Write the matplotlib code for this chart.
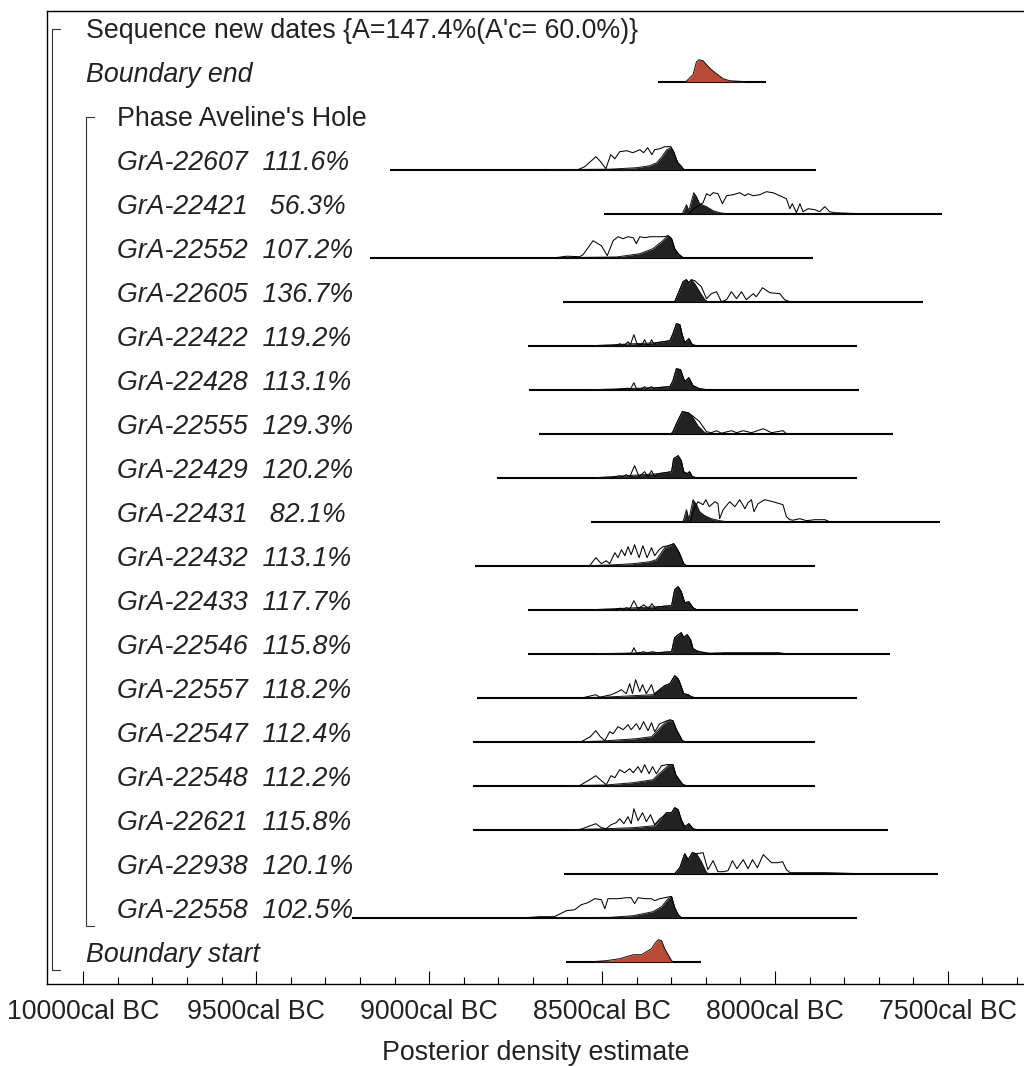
import matplotlib
matplotlib.use("Agg")
import matplotlib.pyplot as plt
from matplotlib.ticker import FixedLocator, FuncFormatter

plt.rcParams['font.family'] = ['Liberation Sans', 'DejaVu Sans']

# ---------------- data (years cal BC, relative probability in arbitrary units) -------------
SEQUENCE_LABEL = "Sequence new dates {A=147.4%(A'c= 60.0%)}"
PHASE_LABEL = "Phase Aveline's Hole"

sample_names = ["GrA-22607", "GrA-22421", "GrA-22552", "GrA-22605", "GrA-22422",
                "GrA-22428", "GrA-22555", "GrA-22429", "GrA-22431", "GrA-22432",
                "GrA-22433", "GrA-22546", "GrA-22557", "GrA-22547", "GrA-22548",
                "GrA-22621", "GrA-22938", "GrA-22558"]
agreements = [111.6, 56.3, 107.2, 136.7, 119.2, 113.1, 129.3, 120.2, 82.1, 113.1,
              117.7, 115.8, 118.2, 112.4, 112.2, 115.8, 120.1, 102.5]

# plotting ranges (start, end) of each row
end_range = (8338, 8025)
start_range = (8603, 8213)
sample_ranges = [(9114, 7882), (8495, 7517), (9172, 7890), (8613, 7572), (8714, 7762),
                 (8711, 7757), (8682, 7660), (8805, 7762), (8531, 7524), (8868, 7884),
                 (8714, 7760), (8714, 7668), (8863, 7763), (8873, 7885), (8873, 7884),
                 (8873, 7673), (8611, 7529), (9224, 7762)]

boundary_end_post = [(8258, 0), (8237, 7), (8227, 20), (8220, 22), (8208, 21), (8198, 17),
                     (8184, 12), (8169, 8), (8150, 3), (8131, 1), (8083, 0)]
boundary_start_post = [(8530, 0), (8488, 1), (8449, 3), (8410, 7), (8386, 7), (8372, 10),
                       (8357, 13), (8348, 18), (8338, 22), (8328, 21), (8319, 13), (8309, 7),
                       (8299, 1), (8295, 0)]

gra22607_prior = [(8570, 0), (8550, 3), (8518, 13), (8504, 8), (8489, 1), (8475, 15), (8463, 11),
                  (8449, 18), (8429, 19), (8411, 17), (8391, 20), (8380, 17), (8368, 22), (8356, 15),
                  (8348, 20), (8333, 21), (8319, 23), (8301, 23), (8293, 18), (8287, 12), (8281, 7),
                  (8270, 3), (8264, 0)]
gra22607_post = [(8651, 0), (8478, 0.5), (8400, 2), (8362, 4), (8342, 7), (8327, 13), (8313, 20),
                 (8301, 22), (8293, 18), (8287, 12), (8281, 7), (8270, 3), (8264, 0)]

gra22421_prior = [(8250, 0), (8235, 5), (8208, 11), (8198, 20), (8188, 18), (8179, 21), (8165, 20),
                  (8152, 10), (8140, 18), (8121, 19), (8102, 21), (8087, 18), (8078, 20), (8063, 18),
                  (8044, 19), (8025, 22), (8006, 21), (7986, 18), (7967, 15), (7957, 5), (7950, 10),
                  (7938, 1), (7928, 10), (7919, 2), (7904, 5), (7885, 4), (7871, 2), (7856, 7),
                  (7842, 2), (7827, 1), (7755, 0)]
gra22421_post = [(8268, 0), (8256, 9), (8249, 3), (8235, 21), (8227, 17), (8218, 10), (8198, 7),
                 (8179, 3), (8160, 1), (8140, 0)]

gra22552_prior = [(8635, 0), (8603, 1.5), (8565, 1), (8555, 3), (8526, 17), (8502, 12), (8485, 2),
                  (8468, 17), (8454, 21), (8439, 19), (8425, 21), (8410, 20), (8401, 14), (8391, 21),
                  (8375, 20), (8362, 21), (8343, 21), (8320, 21), (8309, 22), (8299, 19), (8290, 9),
                  (8280, 4), (8266, 0)]
gra22552_post = [(8640, 0), (8459, 0.7), (8391, 4), (8353, 9), (8328, 16), (8309, 22), (8299, 19),
                 (8290, 9), (8280, 4), (8266, 0)]

gra22605_prior = [(8290, 0), (8280, 8), (8266, 20), (8256, 22), (8249, 19), (8242, 22), (8232, 21),
                  (8213, 15), (8198, 3), (8184, 8), (8169, 10), (8155, 0), (8140, 2), (8126, 10),
                  (8111, 3), (8097, 10), (8083, 2), (8063, 8), (8054, 5), (8036, 14), (8015, 9),
                  (7986, 8), (7972, 2), (7957, 0)]
gra22605_post = [(8290, 0), (8280, 8), (8266, 20), (8256, 22), (8249, 18), (8242, 22), (8232, 18),
                 (8218, 10), (8203, 2), (8194, 0)]

gra22422_prior = [(8460, 0), (8449, 2), (8440, 0.5), (8432, 1.5), (8425, 4), (8418, 1), (8408, 11),
                  (8398, 1), (8385, 1), (8377, 6), (8370, 1), (8363, 1), (8357, 6), (8350, 1.5),
                  (8343, 3), (8304, 5), (8295, 12), (8285, 22), (8275, 21), (8269, 12), (8261, 3),
                  (8249, 7), (8239, 1), (8227, 0)]
gra22422_post = [(8530, 0), (8343, 3), (8304, 5), (8295, 12), (8285, 22), (8275, 21), (8269, 12),
                 (8261, 3), (8249, 7), (8239, 1), (8227, 0)]

gra22428_prior = [(8460, 0), (8440, 1), (8425, 1.5), (8418, 0.5), (8408, 7), (8400, 0.5), (8385, 1),
                  (8377, 3), (8370, 1), (8357, 3), (8350, 1), (8345, 2), (8304, 3), (8295, 9),
                  (8285, 21), (8273, 20), (8261, 8), (8249, 12), (8237, 4), (8218, 1), (8198, 0)]
gra22428_post = [(8530, 0), (8345, 2), (8304, 3), (8295, 9), (8285, 21), (8273, 20), (8261, 8),
                 (8249, 12), (8237, 4), (8218, 1), (8198, 0)]

gra22555_prior = [(8300, 0), (8295, 2), (8285, 10), (8268, 22), (8251, 21), (8239, 18), (8218, 12),
                  (8198, 2), (8184, 1), (8169, 3), (8155, 0.5), (8126, 3), (8111, 1), (8092, 3),
                  (8068, 1), (8034, 5), (8010, 1), (7977, 3), (7967, 0)]
gra22555_post = [(8300, 0), (8295, 2), (8285, 10), (8268, 22), (8251, 21), (8239, 17), (8223, 8),
                 (8203, 1), (8189, 0)]

gra22429_prior = [(8470, 0), (8449, 2), (8440, 1), (8430, 3), (8420, 1), (8406, 12), (8393, 1),
                  (8377, 6), (8367, 1), (8357, 7), (8348, 1), (8338, 4), (8299, 6), (8293, 19),
                  (8280, 22), (8271, 17), (8264, 6), (8254, 4), (8247, 6), (8239, 1), (8227, 0)]
gra22429_post = [(8520, 0), (8338, 4), (8299, 6), (8293, 19), (8280, 22), (8271, 17), (8264, 6),
                 (8254, 4), (8247, 6), (8239, 1), (8227, 0)]

gra22431_prior = [(8245, 0), (8237, 10), (8223, 20), (8208, 17), (8200, 22), (8190, 15), (8174, 20),
                  (8165, 18), (8160, 3), (8150, 12), (8131, 20), (8116, 15), (8102, 22), (8087, 13),
                  (8078, 19), (8068, 22), (8061, 10), (8049, 18), (8030, 22), (8006, 20), (7977, 17),
                  (7967, 5), (7957, 2), (7948, 1.5), (7928, 3), (7909, 1), (7885, 2), (7856, 2),
                  (7842, 0)]
gra22431_post = [(8266, 0), (8256, 12), (8249, 2), (8237, 22), (8227, 17), (8218, 10), (8203, 6),
                 (8184, 3), (8160, 1), (8140, 0)]

gra22432_prior = [(8536, 0), (8518, 8), (8502, 2), (8488, 5), (8478, 2), (8463, 13), (8454, 8),
                  (8444, 16), (8434, 10), (8425, 19), (8416, 11), (8406, 21), (8393, 8), (8382, 20),
                  (8370, 8), (8357, 18), (8348, 10), (8335, 16), (8324, 19), (8309, 20), (8293, 22),
                  (8285, 18), (8277, 13), (8271, 8), (8264, 2), (8256, 0)]
gra22432_post = [(8540, 0), (8478, 0.7), (8410, 2), (8362, 4), (8343, 6), (8333, 11), (8319, 18),
                 (8304, 20), (8293, 22), (8285, 18), (8277, 13), (8271, 8), (8264, 2), (8256, 0)]

gra22433_prior = [(8460, 0), (8449, 1.5), (8437, 0.5), (8430, 2), (8420, 0.5), (8408, 9), (8396, 1),
                  (8379, 5), (8367, 1), (8356, 6), (8345, 1), (8338, 3), (8299, 4), (8290, 20),
                  (8280, 23), (8271, 18), (8261, 7), (8249, 8), (8237, 2), (8227, 0)]
gra22433_post = [(8530, 0), (8338, 3), (8299, 4), (8290, 20), (8280, 23), (8271, 18), (8261, 7),
                 (8249, 8), (8237, 2), (8227, 0)]

gra22546_prior = [(8430, 0), (8415, 0.5), (8408, 6), (8400, 0.5), (8379, 2), (8370, 0.5), (8356, 2),
                  (8340, 1), (8299, 2), (8290, 16), (8280, 19), (8271, 21), (8264, 16), (8254, 19),
                  (8244, 14), (8237, 5), (8223, 2.5), (8208, 1.5), (8190, 0.5), (8140, 1), (8050, 1),
                  (7990, 1), (7970, 0)]
gra22546_post = [(8520, 0), (8340, 1), (8299, 2), (8290, 16), (8280, 19), (8271, 21), (8264, 16),
                 (8254, 19), (8244, 14), (8237, 5), (8223, 2), (8208, 1), (8198, 0)]

gra22557_prior = [(8555, 0), (8518, 3), (8507, 0.5), (8473, 3), (8454, 6), (8444, 8), (8430, 4),
                  (8420, 14), (8412, 4), (8403, 18), (8391, 6), (8383, 13), (8372, 4), (8357, 13),
                  (8348, 3), (8333, 8), (8319, 12), (8304, 14), (8290, 22), (8280, 19), (8273, 13),
                  (8264, 4), (8251, 3), (8242, 1), (8232, 0)]
gra22557_post = [(8560, 0), (8497, 0.5), (8410, 2), (8353, 3), (8338, 7), (8319, 12), (8304, 14),
                 (8290, 22), (8280, 19), (8273, 13), (8264, 4), (8251, 3), (8242, 1), (8232, 0)]

gra22547_prior = [(8560, 0), (8534, 5), (8518, 11), (8505, 5), (8492, 1), (8478, 10), (8468, 8),
                  (8454, 15), (8439, 12), (8425, 17), (8416, 12), (8401, 18), (8391, 12), (8380, 20),
                  (8367, 11), (8357, 19), (8348, 10), (8333, 18), (8319, 20), (8304, 22), (8295, 21),
                  (8285, 12), (8277, 7), (8268, 1), (8261, 0)]
gra22547_post = [(8560, 0), (8497, 0.7), (8401, 3), (8357, 5), (8343, 10), (8324, 17), (8309, 21),
                 (8295, 21), (8285, 12), (8277, 7), (8268, 1), (8261, 0)]

gra22548_prior = [(8565, 0), (8536, 6), (8518, 10), (8502, 5), (8488, 1), (8474, 10), (8463, 8),
                  (8449, 16), (8435, 13), (8420, 17), (8410, 13), (8396, 19), (8386, 13), (8377, 21),
                  (8364, 12), (8354, 19), (8343, 12), (8328, 20), (8314, 21), (8299, 21), (8295, 21),
                  (8287, 11), (8277, 6), (8266, 1), (8256, 0)]
gra22548_post = [(8603, 0), (8488, 0.7), (8410, 3), (8353, 6), (8338, 11), (8319, 17), (8306, 21),
                 (8295, 21), (8287, 11), (8277, 6), (8266, 1), (8256, 0)]

gra22621_prior = [(8565, 0), (8518, 6), (8502, 2), (8488, 1), (8474, 5), (8459, 7), (8449, 11),
                  (8437, 6), (8425, 13), (8416, 6), (8408, 21), (8396, 9), (8383, 17), (8372, 8),
                  (8360, 15), (8348, 5), (8333, 11), (8319, 14), (8314, 17), (8299, 17), (8290, 22),
                  (8280, 20), (8271, 10), (8261, 3), (8249, 6), (8237, 1), (8227, 0)]
gra22621_post = [(8600, 0), (8488, 1), (8410, 2), (8348, 4), (8333, 10), (8314, 17), (8299, 17),
                 (8290, 22), (8280, 20), (8271, 10), (8261, 3), (8249, 6), (8237, 1), (8227, 0)]

gra22938_prior = [(8290, 0), (8275, 6), (8261, 20), (8251, 14), (8239, 21), (8227, 20), (8208, 21),
                  (8194, 4), (8179, 13), (8165, 2), (8150, 2), (8136, 3), (8123, 13), (8110, 5),
                  (8092, 14), (8078, 5), (8065, 14), (8051, 6), (8034, 19), (8010, 11), (7991, 11),
                  (7978, 12), (7967, 4), (7957, 1), (7928, 1), (7851, 1), (7755, 0)]
gra22938_post = [(8290, 0), (8275, 6), (8261, 20), (8251, 14), (8239, 21), (8227, 20), (8213, 12),
                 (8198, 1), (8190, 0)]

gra22558_prior = [(8720, 0), (8680, 1), (8640, 1), (8632, 2), (8603, 7), (8579, 8), (8560, 13),
                  (8541, 15), (8521, 19), (8502, 18), (8492, 9), (8483, 19), (8454, 19), (8430, 20),
                  (8416, 20), (8406, 14), (8396, 20), (8375, 19), (8357, 19), (8348, 17), (8333, 19),
                  (8304, 21), (8299, 21), (8290, 10), (8280, 3), (8271, 0)]
gra22558_post = [(8640, 0), (8478, 0.3), (8410, 2), (8353, 6), (8328, 11), (8309, 19), (8299, 21),
                 (8290, 10), (8280, 3), (8271, 0)]

sample_priors = [gra22607_prior, gra22421_prior, gra22552_prior, gra22605_prior, gra22422_prior,
                 gra22428_prior, gra22555_prior, gra22429_prior, gra22431_prior, gra22432_prior,
                 gra22433_prior, gra22546_prior, gra22557_prior, gra22547_prior, gra22548_prior,
                 gra22621_prior, gra22938_prior, gra22558_prior]
sample_posts = [gra22607_post, gra22421_post, gra22552_post, gra22605_post, gra22422_post,
                gra22428_post, gra22555_post, gra22429_post, gra22431_post, gra22432_post,
                gra22433_post, gra22546_post, gra22557_post, gra22547_post, gra22548_post,
                gra22621_post, gra22938_post, gra22558_post]

major_ticks = [10000, 9500, 9000, 8500, 8000, 7500]
minor_ticks = list(range(10000, 7299, -100))

# ---------------- figure -------------
W, H = 1024, 1066
fig = plt.figure(figsize=(W / 100, H / 100), dpi=100)
ax = fig.add_axes([47 / W, 1 - 984 / H, 977 / W, (984 - 11) / H])
ax.set_xlim(10105, 7280)
ax.set_ylim(21.507, -0.607)

SCALE = 1.0 / 44.0   # relative probability units -> row units
TXT = '#222222'
DARK = '#222222'
RED = '#B94B36'
FS = 19.3


def draw_row(i, rng, post, prior=None, fill=DARK):
    ax.plot(list(rng), [i, i], color='black', lw=1.5, solid_capstyle='butt', zorder=2)
    xs = [p[0] for p in post]
    ys = [i - p[1] * SCALE for p in post]
    ax.fill_between(xs, i, ys, color=fill, lw=0, zorder=3)
    ax.plot(xs, ys, color='#111111', lw=0.7, zorder=4)
    if prior is not None:
        ax.plot([p[0] for p in prior], [i - p[1] * SCALE for p in prior],
                color='black', lw=0.75, zorder=5)


ytr = ax.get_yaxis_transform()
# labels
ax.text(0.0395, 0, SEQUENCE_LABEL, transform=ytr, fontsize=FS, color=TXT, va='baseline')
ax.text(0.0395, 1, "Boundary end", transform=ytr, fontsize=FS, color=TXT, va='baseline', style='italic')
ax.text(0.072, 2, PHASE_LABEL, transform=ytr, fontsize=FS, color=TXT, va='baseline')
for k, (nm, a) in enumerate(zip(sample_names, agreements)):
    ax.text(0.072, 3 + k, f"{nm}  {a:5.1f}%", transform=ytr, fontsize=FS, color=TXT,
            va='baseline', style='italic')
ax.text(0.0395, 21, "Boundary start", transform=ytr, fontsize=FS, color=TXT, va='baseline', style='italic')

# distributions
draw_row(1, end_range, boundary_end_post, fill=RED)
for k in range(len(sample_names)):
    draw_row(3 + k, sample_ranges[k], sample_posts[k], sample_priors[k])
draw_row(21, start_range, boundary_start_post, fill=RED)

# brackets
bc = '#333333'
ax.plot([0.0128, 0.0048, 0.0048, 0.0128], [-0.198, -0.198, 21.2, 21.2], transform=ytr,
        color=bc, lw=0.8, clip_on=False)
ax.plot([0.0486, 0.0396, 0.0396, 0.0486], [1.80, 1.80, 20.19, 20.19], transform=ytr,
        color=bc, lw=0.8, clip_on=False)

# axes styling
ax.spines['right'].set_visible(False)
for s in ('top', 'left', 'bottom'):
    ax.spines[s].set_linewidth(1.0)
    ax.spines[s].set_color('black')
ax.set_yticks([])
ax.xaxis.set_major_locator(FixedLocator(major_ticks))
ax.xaxis.set_minor_locator(FixedLocator(minor_ticks))
ax.xaxis.set_major_formatter(FuncFormatter(lambda v, p: f"{int(round(v))}cal BC"))
ax.tick_params(axis='x', which='major', direction='in', length=9.5, width=0.8,
               labelsize=FS, labelcolor=TXT, pad=11)
ax.tick_params(axis='x', which='minor', direction='in', length=5, width=0.8)
ax.set_xlabel("Posterior density estimate", fontsize=FS, color=TXT, labelpad=10.5)

fig.savefig("out.png", dpi=100)
